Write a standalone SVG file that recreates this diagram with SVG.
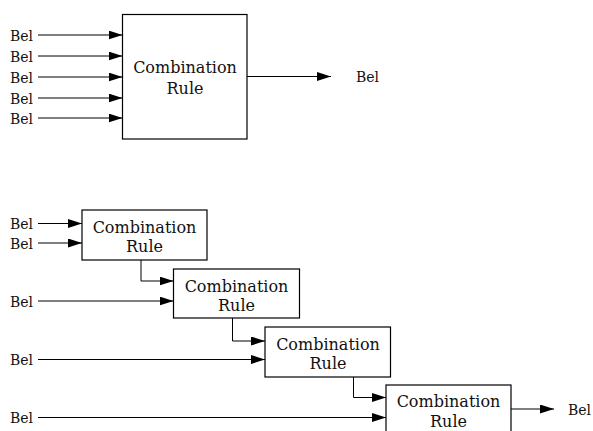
<svg xmlns="http://www.w3.org/2000/svg" width="593" height="431" viewBox="0 0 593 431">
<defs>
<style>
.box{fill:#fff;stroke:#000;stroke-width:1.2}
.ln{fill:none;stroke:#000;stroke-width:1}
.t{font-family:"DejaVu Serif","Liberation Serif",serif;font-size:16px;fill:#111;text-anchor:middle}
.b{font-family:"DejaVu Serif","Liberation Serif",serif;font-size:14px;fill:#111}
</style>
<marker id="ah" markerUnits="userSpaceOnUse" markerWidth="14" markerHeight="9" refX="14" refY="4.5" orient="auto">
<path d="M0,0 L14,4.5 L0,9 Z" fill="#000"/>
</marker>
</defs>
<rect width="593" height="431" fill="#fff"/>
<g id="connectors">
<line class="ln" x1="38" y1="35" x2="122.5" y2="35" marker-end="url(#ah)"/>
<line class="ln" x1="38" y1="56" x2="122.5" y2="56" marker-end="url(#ah)"/>
<line class="ln" x1="38" y1="77" x2="122.5" y2="77" marker-end="url(#ah)"/>
<line class="ln" x1="38" y1="98" x2="122.5" y2="98" marker-end="url(#ah)"/>
<line class="ln" x1="38" y1="118" x2="122.5" y2="118" marker-end="url(#ah)"/>
<line class="ln" x1="247" y1="76.5" x2="331" y2="76.5" marker-end="url(#ah)"/>
<line class="ln" x1="38" y1="223.5" x2="82" y2="223.5" marker-end="url(#ah)"/>
<line class="ln" x1="38" y1="243" x2="82" y2="243" marker-end="url(#ah)"/>
<polyline class="ln" points="141,260 141,281 173.5,281" marker-end="url(#ah)"/>
<line class="ln" x1="38" y1="301" x2="173.5" y2="301" marker-end="url(#ah)"/>
<polyline class="ln" points="232.5,318 232.5,341 265,341" marker-end="url(#ah)"/>
<line class="ln" x1="38" y1="359.5" x2="265" y2="359.5" marker-end="url(#ah)"/>
<polyline class="ln" points="353.5,377 353.5,397.5 386,397.5" marker-end="url(#ah)"/>
<line class="ln" x1="38" y1="417.5" x2="386" y2="417.5" marker-end="url(#ah)"/>
<line class="ln" x1="511" y1="409" x2="554" y2="409" marker-end="url(#ah)"/>
</g>
<g id="inputs-top">
<text class="b" x="10" y="40.5">Bel</text>
<text class="b" x="10" y="61.5">Bel</text>
<text class="b" x="10" y="82.5">Bel</text>
<text class="b" x="10" y="103.5">Bel</text>
<text class="b" x="10" y="123.5">Bel</text>
<text class="b" x="356" y="82">Bel</text>
</g>
<g id="rule-top">
<rect class="box" x="122.5" y="14.5" width="124.5" height="124.5"/>
<text class="t" x="185" y="73.3">Combination</text>
<text class="t" x="185" y="94">Rule</text>
</g>
<g id="inputs-bottom">
<text class="b" x="10" y="229">Bel</text>
<text class="b" x="10" y="248.5">Bel</text>
<text class="b" x="10" y="306.5">Bel</text>
<text class="b" x="10" y="365">Bel</text>
<text class="b" x="10" y="423">Bel</text>
<text class="b" x="568" y="415">Bel</text>
</g>
<g id="rule-1">
<rect class="box" x="82" y="210" width="125" height="50"/>
<text class="t" x="144.5" y="233.3">Combination</text>
<text class="t" x="144.5" y="251.7">Rule</text>
</g>
<g id="rule-2">
<rect class="box" x="173.5" y="269" width="126" height="49"/>
<text class="t" x="236.5" y="292.3">Combination</text>
<text class="t" x="236.5" y="310.7">Rule</text>
</g>
<g id="rule-3">
<rect class="box" x="265" y="327" width="125.5" height="50"/>
<text class="t" x="328" y="350">Combination</text>
<text class="t" x="328" y="368.5">Rule</text>
</g>
<g id="rule-4">
<rect class="box" x="386" y="385" width="125" height="50"/>
<text class="t" x="448.5" y="407">Combination</text>
<text class="t" x="448.5" y="426.7">Rule</text>
</g>
</svg>
